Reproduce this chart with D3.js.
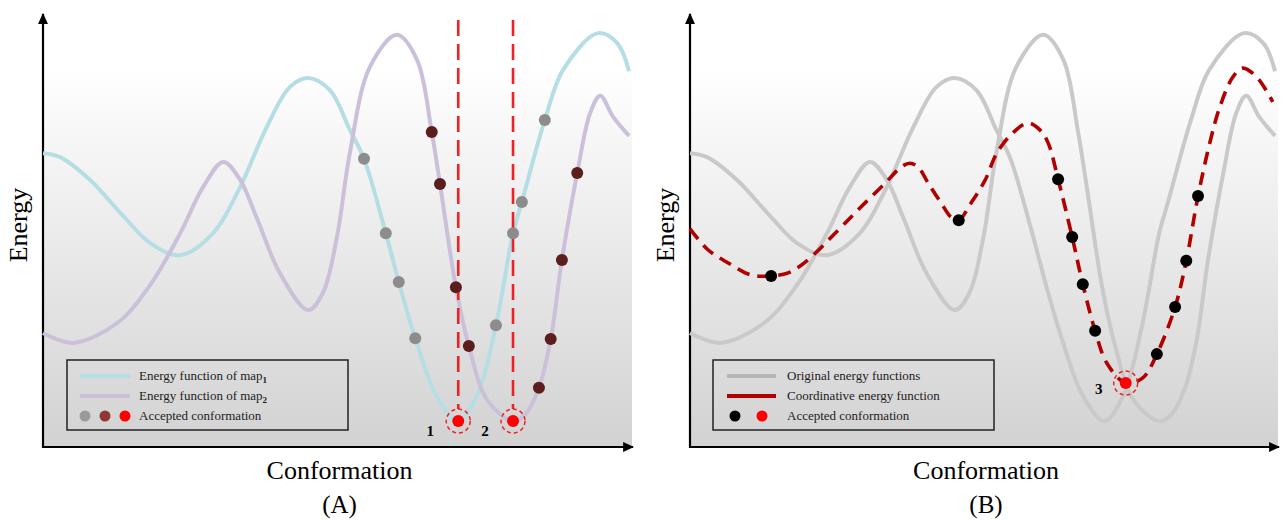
<!DOCTYPE html>
<html>
<head>
<meta charset="utf-8">
<script src="https://cdn.jsdelivr.net/npm/d3@7"></script>
<style>
  body { margin: 0; background: #fff; }
  svg text { font-family: "Liberation Serif", "DejaVu Serif", serif; }
</style>
</head>
<body>
<div id="chart"></div>
<script>
// conformation (0-100) vs energy (0-100)
var map1Curve = [[0,68],[2.9,67.1],[8,61.8],[13.6,53.5],[18.2,47.2],[23.3,44.4],[28.9,49.5],[33.4,60],[38,74.1],[41.9,83.3],[45,85.4],[48.7,82.6],[52.1,73.4],[54.5,66.7],[58.2,49.5],[60.4,38.2],[63.2,25.2],[66.9,11.6],[70.5,6],[73.7,12],[76.9,28.2],[79.8,49.5],[81.3,56.7],[85.2,75.7],[88.3,87.3],[94.2,95.8],[97.5,93.5],[99.5,87]];
var map2Curve = [[0,26.4],[5.1,24.1],[12.6,28.7],[18.2,37.5],[23.3,49.5],[27.2,60.2],[30.6,66],[33.4,62],[36.3,53],[40.2,40.3],[45,31.7],[47.5,35.6],[49.9,48.6],[52.1,68.1],[55.5,88],[60.1,95.4],[63.5,89.6],[66,72.9],[67.4,60.9],[70.1,37],[72.3,23.4],[75.4,10.9],[79.8,6],[81.8,7.4],[84.2,13.7],[86.2,25],[88.1,43.3],[90.7,63.4],[92.9,77.3],[94.6,81.3],[96.8,76.4],[99.5,72]];
var coordCurve = [[0,50.5],[3.1,45.6],[6.5,42.6],[10.4,39.8],[13.8,39.6],[16.7,40.3],[19.6,42.8],[25.2,50.2],[29.1,55.6],[33.2,61.1],[35.9,64.8],[37.4,65.7],[38.8,64.8],[40.5,61.1],[42.7,56.5],[44.4,53.2],[45.7,52.5],[47.8,56.5],[50.2,61.8],[52.2,68.1],[54.9,72.7],[57.5,75],[59.5,73.4],[60.9,70.4],[62.6,62],[65,48.6],[66.8,37.7],[68.9,26.9],[70.9,19.4],[74.1,14.8],[77,16],[79.4,21.5],[82.5,32.4],[84.4,43.1],[86.4,58.1],[88.4,70.4],[90.1,78.7],[92.3,85.6],[94,87.7],[96.4,85.6],[99.1,79.9]];

var map1Dots = [[54.5,66.7],[58.2,49.5],[60.4,38.2],[63.2,25.2],[76.9,28.2],[79.8,49.5],[81.3,56.7],[85.2,75.7]];
var map2Dots = [[66,72.9],[67.4,60.9],[70.1,37],[72.3,23.4],[84.2,13.7],[86.2,25],[88.1,43.3],[90.7,63.4]];
var bestA = [[70.5,6,"1"],[79.8,6,"2"]];
var coordDots = [[13.8,39.6],[45.7,52.5],[62.6,62],[65,48.6],[66.8,37.7],[68.9,26.9],[79.4,21.5],[82.5,32.4],[84.4,43.1],[86.4,58.1]];
var bestB = [[74.1,14.8,"3"]];

var legendA = ["Energy function of map", "Energy function of map", "Accepted conformation"];
var legendB = ["Original energy functions", "Coordinative energy function", "Accepted conformation"];

var W = 1283, H = 520;
var serif = "'Liberation Serif', 'DejaVu Serif', serif";
var blue = "#b5dde4", purple = "#cbc0da", grey = "#c9c9c9", darkRed = "#b00000";

var svg = d3.select("#chart").append("svg")
    .attr("width", W)
    .attr("height", H)
    .attr("font-family", serif);

var defs = svg.append("defs");
defs.append("marker")
    .attr("id", "arrow")
    .attr("viewBox", "0 0 10 10")
    .attr("refX", 9)
    .attr("refY", 5)
    .attr("markerUnits", "userSpaceOnUse")
    .attr("markerWidth", 11)
    .attr("markerHeight", 11)
    .attr("orient", "auto")
    .append("path")
    .attr("d", "M0,0.5L10,5L0,9.5Z")
    .attr("fill", "#000");

var grad = defs.append("linearGradient")
    .attr("id", "bg")
    .attr("x1", 0).attr("y1", 0).attr("x2", 0).attr("y2", 1);
grad.append("stop").attr("offset", "0%").attr("stop-color", "#ffffff");
grad.append("stop").attr("offset", "15%").attr("stop-color", "#ffffff");
grad.append("stop").attr("offset", "100%").attr("stop-color", "#d2d2d2");

var y = d3.scaleLinear().domain([0, 100]).range([447, 15]);

function panel(x0, x1, title) {
    var x = d3.scaleLinear().domain([0, 100]).range([x0, x1]);
    var g = svg.append("g");

    g.append("rect")
        .attr("x", x0).attr("y", 0)
        .attr("width", x1 - x0).attr("height", 447)
        .attr("fill", "url(#bg)");

    var line = d3.line()
        .x(d => x(d[0]))
        .y(d => y(d[1]))
        .curve(d3.curveCatmullRom.alpha(0.5));

    var xAxis = g.append("g")
        .attr("transform", "translate(0,447)")
        .call(d3.axisBottom(x).tickValues([]).tickSizeOuter(0));
    var yAxis = g.append("g")
        .attr("transform", "translate(" + x0 + ",0)")
        .call(d3.axisLeft(y).tickValues([]).tickSizeOuter(0));
    [xAxis, yAxis].forEach(a => a.select(".domain")
        .attr("stroke", "#000")
        .attr("stroke-width", 2.2)
        .attr("marker-end", "url(#arrow)"));
    // extend axes so the arrow tips sit at the ends
    xAxis.select(".domain").attr("d", "M" + x0 + ",0H" + (x1 + 1));
    yAxis.select(".domain").attr("d", "M0,448V14");

    g.append("text")
        .attr("transform", "translate(" + (x0 - 16) + ",225) rotate(-90)")
        .attr("text-anchor", "middle")
        .attr("font-family", serif)
        .attr("font-size", 26)
        .text("Energy");
    g.append("text")
        .attr("x", (x0 + x1) / 2 + 2).attr("y", 479)
        .attr("text-anchor", "middle")
        .attr("font-family", serif)
        .attr("font-size", 26)
        .text("Conformation");
    g.append("text")
        .attr("x", (x0 + x1) / 2 + 2).attr("y", 513)
        .attr("text-anchor", "middle")
        .attr("font-family", serif)
        .attr("font-size", 25)
        .text(title);

    return {g: g, x: x, line: line};
}

// ---------- Panel A ----------
var A = panel(43, 632, "(A)");
A.g.append("path").datum(map1Curve)
    .attr("d", A.line).attr("fill", "none")
    .attr("stroke", blue).attr("stroke-width", 4);
A.g.append("path").datum(map2Curve)
    .attr("d", A.line).attr("fill", "none")
    .attr("stroke", purple).attr("stroke-width", 4);

A.g.selectAll(".vline").data(bestA).enter().append("line")
    .attr("x1", d => A.x(d[0])).attr("x2", d => A.x(d[0]))
    .attr("y1", 20).attr("y2", d => y(d[1]) - 12)
    .attr("stroke", "#ee2222").attr("stroke-width", 2.6)
    .attr("stroke-dasharray", "16,8");

A.g.selectAll(".d1").data(map1Dots).enter().append("circle")
    .attr("cx", d => A.x(d[0])).attr("cy", d => y(d[1]))
    .attr("r", 6).attr("fill", "#8c8c8c");
A.g.selectAll(".d2").data(map2Dots).enter().append("circle")
    .attr("cx", d => A.x(d[0])).attr("cy", d => y(d[1]))
    .attr("r", 6).attr("fill", "#5c1d1d");

function best(p, data, dx, dy) {
    var b = p.g.selectAll(".best").data(data).enter().append("g");
    b.append("circle")
        .attr("cx", d => p.x(d[0])).attr("cy", d => y(d[1]))
        .attr("r", 12).attr("fill", "none")
        .attr("stroke", "#ee2222").attr("stroke-width", 1.5)
        .attr("stroke-dasharray", "4,3");
    b.append("circle")
        .attr("cx", d => p.x(d[0])).attr("cy", d => y(d[1]))
        .attr("r", 6).attr("fill", "#ff0000");
    b.append("text")
        .attr("x", d => p.x(d[0]) + dx).attr("y", d => y(d[1]) + dy)
        .attr("font-family", serif)
        .attr("font-size", 15).attr("font-weight", "bold")
        .attr("text-anchor", "middle")
        .text(d => d[2]);
}
best(A, bestA, -28, 15);

var la = A.g.append("g").attr("transform", "translate(67,360)");
la.append("rect").attr("width", 281).attr("height", 70)
    .attr("fill", "none").attr("stroke", "#222").attr("stroke-width", 1.5);
[blue, purple].forEach((c, i) => la.append("line")
    .attr("x1", 13).attr("x2", 63).attr("y1", 16 + i * 20).attr("y2", 16 + i * 20)
    .attr("stroke", c).attr("stroke-width", 4));
["#9a9a9a", "#8e3833", "#ff0000"].forEach((c, i) => la.append("circle")
    .attr("cx", 18 + i * 20).attr("cy", 56).attr("r", 5.5).attr("fill", c));
legendA.forEach((t, i) => {
    var tx = la.append("text").attr("x", 72).attr("y", 20 + i * 20)
        .attr("font-family", serif)
        .attr("font-size", 13).attr("fill", "#222").text(t);
    if (i < 2) tx.append("tspan").attr("dy", 3).attr("font-size", 9)
        .attr("font-weight", "bold").text(i + 1);
});

// ---------- Panel B ----------
var B = panel(690, 1278, "(B)");
[map1Curve, map2Curve].forEach(c => B.g.append("path").datum(c)
    .attr("d", B.line).attr("fill", "none")
    .attr("stroke", grey).attr("stroke-width", 4));
B.g.append("path").datum(coordCurve)
    .attr("d", B.line).attr("fill", "none")
    .attr("stroke", darkRed).attr("stroke-width", 3.6)
    .attr("stroke-dasharray", "13,8");
B.g.selectAll(".dc").data(coordDots).enter().append("circle")
    .attr("cx", d => B.x(d[0])).attr("cy", d => y(d[1]))
    .attr("r", 6).attr("fill", "#000");
best(B, bestB, -27, 11);

var lb = B.g.append("g").attr("transform", "translate(713,360)");
lb.append("rect").attr("width", 281).attr("height", 70)
    .attr("fill", "none").attr("stroke", "#222").attr("stroke-width", 1.5);
["#b5b5b5", darkRed].forEach((c, i) => lb.append("line")
    .attr("x1", 14).attr("x2", 63).attr("y1", 16 + i * 20).attr("y2", 16 + i * 20)
    .attr("stroke", c).attr("stroke-width", 4));
["#000", "#ff0000"].forEach((c, i) => lb.append("circle")
    .attr("cx", 22 + i * 27).attr("cy", 56).attr("r", 5.5).attr("fill", c));
legendB.forEach((t, i) => lb.append("text").attr("x", 74).attr("y", 20 + i * 20)
    .attr("font-family", serif)
    .attr("font-size", 13).attr("fill", "#222").text(t));
</script>
</body>
</html>
